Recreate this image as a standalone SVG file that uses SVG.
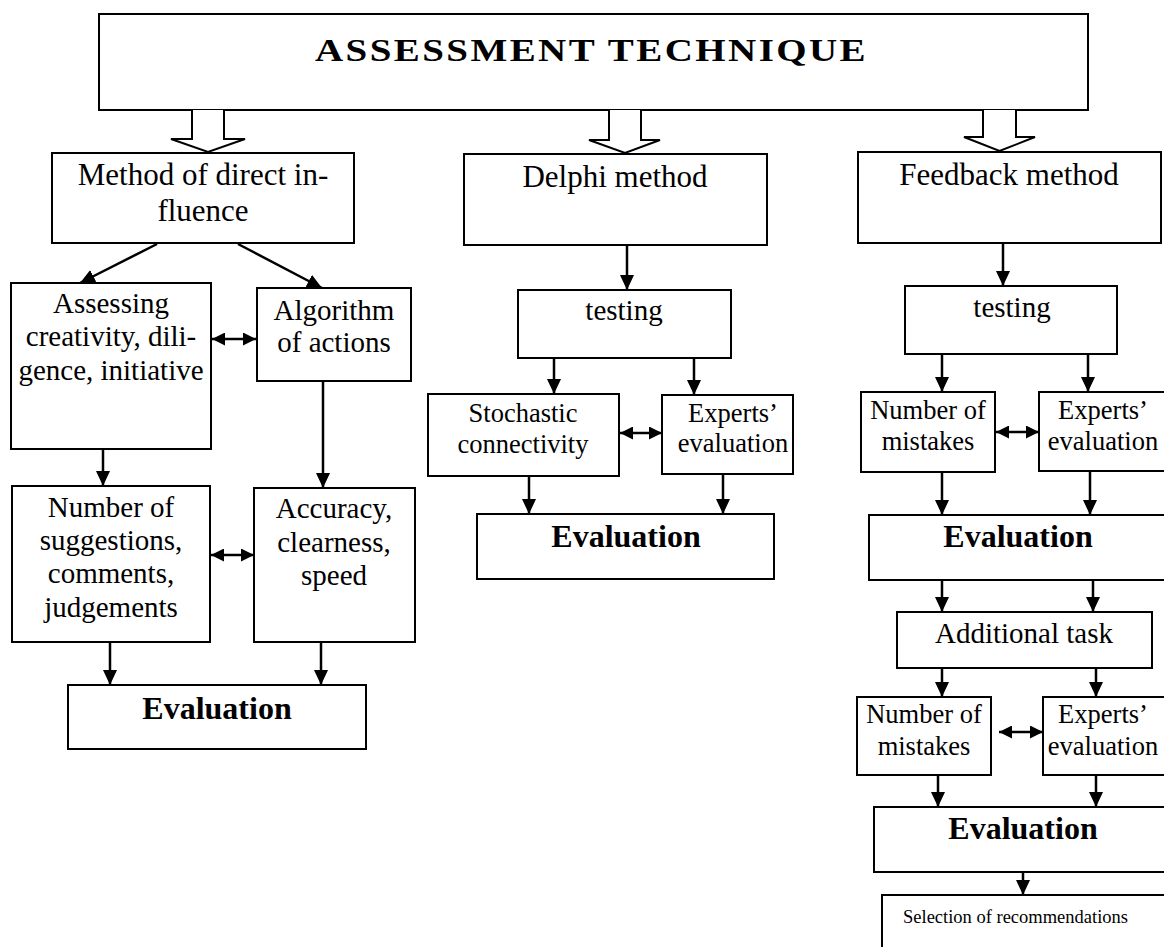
<svg xmlns="http://www.w3.org/2000/svg" width="1164" height="947" viewBox="0 0 1164 947">
<defs>
<style>
.box{fill:#fff;stroke:#000;stroke-width:2}
.t{font-family:"Liberation Serif","Times New Roman",serif;fill:#000;text-anchor:middle}
.b{font-weight:bold}
.c{stroke:#000;stroke-width:2.5;fill:none}
.h{fill:#fff;stroke:#000;stroke-width:2}
</style>
<marker id="ah" markerUnits="userSpaceOnUse" viewBox="0 0 15 14" refX="15" refY="7" markerWidth="15" markerHeight="14" orient="auto-start-reverse">
<path d="M0,0 L15,7 L0,14 Z" fill="#000"/>
</marker>
<marker id="dh" markerUnits="userSpaceOnUse" viewBox="0 0 13 13" refX="13" refY="6.5" markerWidth="13" markerHeight="13" orient="auto-start-reverse">
<path d="M0,0 L13,6.5 L0,13 Z" fill="#000"/>
</marker>
</defs>
<rect width="1164" height="947" fill="#fff"/>

<g id="title">
<rect class="box" x="99" y="14" width="989" height="96"/>
<text class="t b" x="315" y="61" font-size="32" letter-spacing="2" style="text-anchor:start" textLength="553" lengthAdjust="spacingAndGlyphs">ASSESSMENT TECHNIQUE</text>
</g>

<g id="hollow-arrows">
<polyline class="h" points="192,110 192,139 171,139 208,152 245,139 224,139 224,110"/>
<polyline class="h" points="609,110 609,140 589,140 625,153 660,140 641,140 641,110"/>
<polyline class="h" points="983,110 983,137 964,137 999.5,151 1035,137 1016,137 1016,110"/>
</g>

<g id="n-method">
<rect class="box" x="52" y="153" width="302" height="90"/>
<text class="t" x="203" y="185" font-size="31">Method of direct in-</text>
<text class="t" x="203" y="221" font-size="31">fluence</text>
</g>
<g id="n-assessing">
<rect class="box" x="11" y="283" width="200" height="166"/>
<text class="t" x="111" y="313" font-size="29">Assessing</text>
<text class="t" x="111" y="346" font-size="29">creativity, dili-</text>
<text class="t" x="111" y="380" font-size="29">gence, initiative</text>
</g>
<g id="n-algorithm">
<rect class="box" x="257" y="288" width="154" height="93"/>
<text class="t" x="334" y="320" font-size="29">Algorithm</text>
<text class="t" x="334" y="352" font-size="29">of actions</text>
</g>
<g id="n-number">
<rect class="box" x="12" y="486" width="198" height="156"/>
<text class="t" x="111" y="517" font-size="29">Number of</text>
<text class="t" x="111" y="550" font-size="29">suggestions,</text>
<text class="t" x="111" y="583" font-size="29">comments,</text>
<text class="t" x="111" y="617" font-size="29">judgements</text>
</g>
<g id="n-accuracy">
<rect class="box" x="254" y="488" width="161" height="154"/>
<text class="t" x="334" y="518" font-size="29">Accuracy,</text>
<text class="t" x="334" y="552" font-size="29">clearness,</text>
<text class="t" x="334" y="585" font-size="29">speed</text>
</g>
<g id="n-eval1">
<rect class="box" x="68" y="685" width="298" height="64"/>
<text class="t b" x="217" y="719" font-size="32">Evaluation</text>
</g>

<g id="n-delphi">
<rect class="box" x="464" y="154" width="303" height="91"/>
<text class="t" x="615" y="187" font-size="31">Delphi method</text>
</g>
<g id="n-testing1">
<rect class="box" x="518" y="290" width="213" height="68"/>
<text class="t" x="624" y="320" font-size="29">testing</text>
</g>
<g id="n-stochastic">
<rect class="box" x="428" y="394" width="191" height="82"/>
<text class="t" x="523" y="422" font-size="26.5">Stochastic</text>
<text class="t" x="523" y="453" font-size="26.5">connectivity</text>
</g>
<g id="n-experts1">
<rect class="box" x="662" y="395" width="131" height="79"/>
<text class="t" x="733" y="422" font-size="26.5">Experts’</text>
<text class="t" x="733" y="452" font-size="26.5">evaluation</text>
</g>
<g id="n-eval2">
<rect class="box" x="477" y="514" width="297" height="65"/>
<text class="t b" x="626" y="547" font-size="32">Evaluation</text>
</g>

<g id="n-feedback">
<rect class="box" x="858" y="152" width="303" height="91"/>
<text class="t" x="1009" y="185" font-size="31">Feedback method</text>
</g>
<g id="n-testing2">
<rect class="box" x="905" y="286" width="212" height="68"/>
<text class="t" x="1012" y="317" font-size="29">testing</text>
</g>
<g id="n-mistakes1">
<rect class="box" x="861" y="392" width="134" height="80"/>
<text class="t" x="928" y="419" font-size="26.5">Number of</text>
<text class="t" x="928" y="450" font-size="26.5">mistakes</text>
</g>
<g id="n-experts2">
<rect class="box" x="1039" y="392" width="140" height="79"/>
<text class="t" x="1103" y="419" font-size="26.5">Experts’</text>
<text class="t" x="1103" y="450" font-size="26.5">evaluation</text>
</g>
<g id="n-eval3">
<rect class="box" x="869" y="515" width="310" height="65"/>
<text class="t b" x="1018" y="547" font-size="32">Evaluation</text>
</g>
<g id="n-additional">
<rect class="box" x="897" y="612" width="255" height="56"/>
<text class="t" x="1024" y="643" font-size="29">Additional task</text>
</g>
<g id="n-mistakes2">
<rect class="box" x="857" y="697" width="134" height="78"/>
<text class="t" x="924" y="723" font-size="26.5">Number of</text>
<text class="t" x="924" y="755" font-size="26.5">mistakes</text>
</g>
<g id="n-experts3">
<rect class="box" x="1043" y="697" width="136" height="78"/>
<text class="t" x="1103" y="723" font-size="26.5">Experts’</text>
<text class="t" x="1103" y="755" font-size="26.5">evaluation</text>
</g>
<g id="n-eval4">
<rect class="box" x="874" y="807" width="305" height="65"/>
<text class="t b" x="1023" y="839" font-size="32">Evaluation</text>
</g>
<g id="n-selection">
<rect class="box" x="882" y="895" width="297" height="60"/>
<text class="t" x="903" y="923" font-size="18.5" style="text-anchor:start">Selection of recommendations</text>
</g>

<g id="connectors">
<line class="c" x1="157" y1="244" x2="80" y2="283" marker-end="url(#ah)"/>
<line class="c" x1="238" y1="244" x2="322" y2="288" marker-end="url(#ah)"/>
<line class="c" x1="212" y1="339" x2="256" y2="339" marker-start="url(#dh)" marker-end="url(#dh)"/>
<line class="c" x1="323" y1="381" x2="323" y2="488" marker-end="url(#ah)"/>
<line class="c" x1="103" y1="449" x2="103" y2="486" marker-end="url(#ah)"/>
<line class="c" x1="211" y1="555" x2="254" y2="555" marker-start="url(#dh)" marker-end="url(#dh)"/>
<line class="c" x1="110" y1="642" x2="110" y2="685" marker-end="url(#ah)"/>
<line class="c" x1="321" y1="642" x2="321" y2="685" marker-end="url(#ah)"/>

<line class="c" x1="627" y1="245" x2="627" y2="290" marker-end="url(#ah)"/>
<line class="c" x1="554" y1="358" x2="554" y2="394" marker-end="url(#ah)"/>
<line class="c" x1="694" y1="358" x2="694" y2="395" marker-end="url(#ah)"/>
<line class="c" x1="620" y1="433" x2="662" y2="433" marker-start="url(#dh)" marker-end="url(#dh)"/>
<line class="c" x1="529" y1="476" x2="529" y2="514" marker-end="url(#ah)"/>
<line class="c" x1="723" y1="474" x2="723" y2="514" marker-end="url(#ah)"/>

<line class="c" x1="1003" y1="243" x2="1003" y2="286" marker-end="url(#ah)"/>
<line class="c" x1="942" y1="354" x2="942" y2="392" marker-end="url(#ah)"/>
<line class="c" x1="1088" y1="354" x2="1088" y2="392" marker-end="url(#ah)"/>
<line class="c" x1="996" y1="432" x2="1039" y2="432" marker-start="url(#dh)" marker-end="url(#dh)"/>
<line class="c" x1="942" y1="472" x2="942" y2="515" marker-end="url(#ah)"/>
<line class="c" x1="1090" y1="471" x2="1090" y2="515" marker-end="url(#ah)"/>
<line class="c" x1="942" y1="580" x2="942" y2="612" marker-end="url(#ah)"/>
<line class="c" x1="1093" y1="580" x2="1093" y2="612" marker-end="url(#ah)"/>
<line class="c" x1="942" y1="668" x2="942" y2="697" marker-end="url(#ah)"/>
<line class="c" x1="1096" y1="668" x2="1096" y2="697" marker-end="url(#ah)"/>
<line class="c" x1="999" y1="732" x2="1043" y2="732" marker-start="url(#dh)" marker-end="url(#dh)"/>
<line class="c" x1="938" y1="775" x2="938" y2="807" marker-end="url(#ah)"/>
<line class="c" x1="1096" y1="775" x2="1096" y2="807" marker-end="url(#ah)"/>
<line class="c" x1="1023" y1="872" x2="1023" y2="895" marker-end="url(#ah)"/>
</g>
</svg>
